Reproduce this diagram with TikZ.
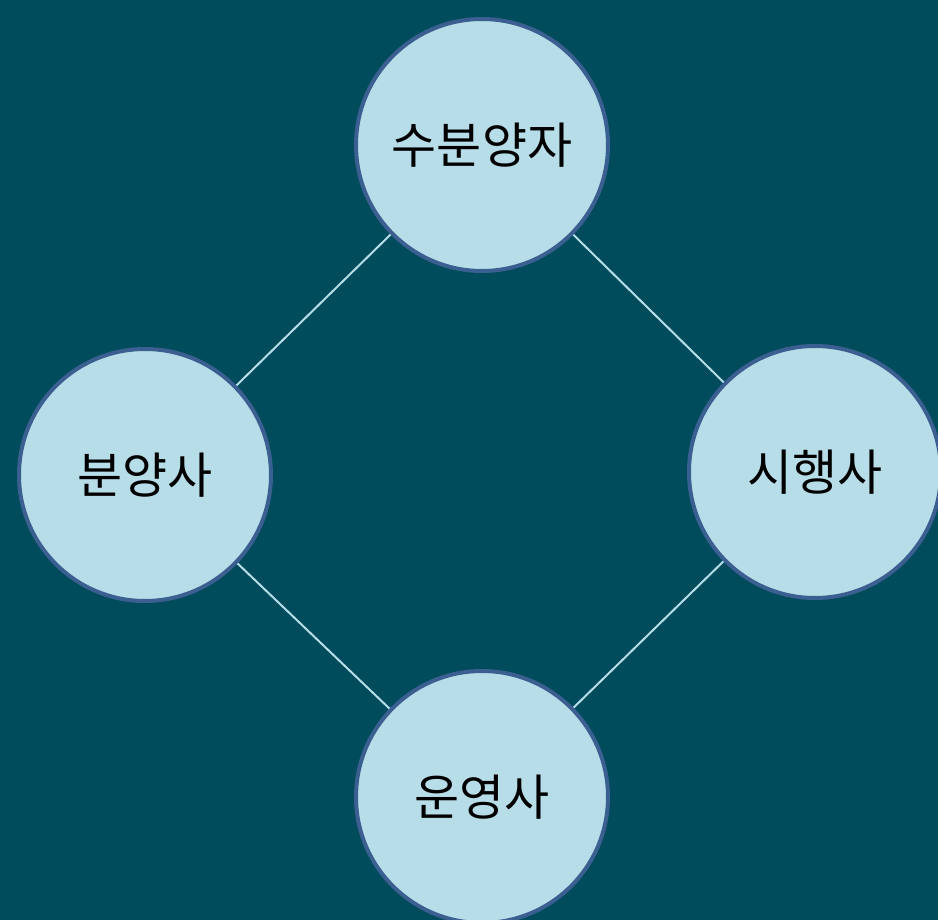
\documentclass[tikz,border=0pt]{standalone}
\usepackage{fontspec}
\newfontfamily\kr{Noto Sans CJK KR}
\definecolor{bg}{RGB}{0,76,92}
\definecolor{cfill}{RGB}{183,221,232}
\definecolor{cdraw}{RGB}{59,95,145}
\definecolor{lnk}{RGB}{183,221,232}
\begin{document}
\begin{tikzpicture}[x=1pt,y=-1pt,
  party/.style={circle,draw=cdraw,line width=4pt,fill=cfill,minimum size=252pt,inner sep=0pt,font=\kr\fontsize{49}{54}\selectfont,text=black},
  link/.style={draw=lnk,line width=2pt}]
\fill[bg] (0,0) rectangle (938,920);
\useasboundingbox (0,0) rectangle (938,920);
\coordinate (ct) at (482,145);
\coordinate (cl) at (145,475);
\coordinate (cr) at (815,472);
\coordinate (cb) at (482,797);
\draw[link] (ct) -- (cl);
\draw[link] (ct) -- (cr);
\draw[link] (cl) -- (cb);
\draw[link] (cr) -- (cb);
\node[party] (top) at (ct) {수분양자};
\node[party] (left) at (cl) {분양사};
\node[party] (right) at (cr) {시행사};
\node[party] (bottom) at (cb) {운영사};
\end{tikzpicture}
\end{document}
